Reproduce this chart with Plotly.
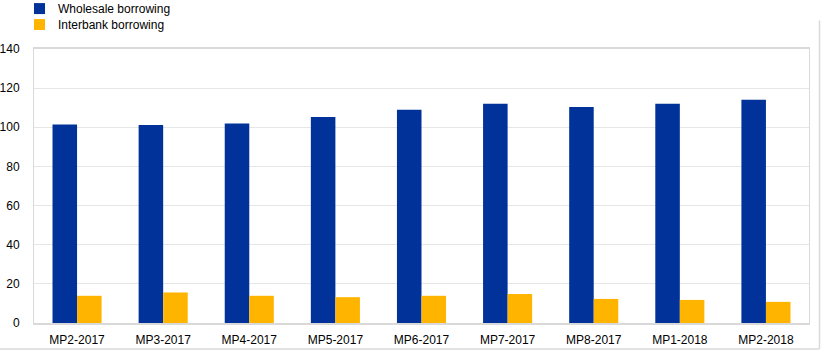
import plotly.graph_objects as go

# Maintenance periods
periods = ["MP2-2017", "MP3-2017", "MP4-2017", "MP5-2017", "MP6-2017",
           "MP7-2017", "MP8-2017", "MP1-2018", "MP2-2018"]
wholesale = [101.4, 101.2, 101.9, 105.3, 109.0, 112.0, 110.4, 112.0, 114.1]
interbank = [13.9, 15.6, 13.9, 13.2, 13.9, 14.8, 12.3, 11.8, 10.8]
series_names = ["Wholesale borrowing", "Interbank borrowing"]
y_ticks = [0, 20, 40, 60, 80, 100, 120, 140]

BLUE = "#003299"
YELLOW = "#FFB400"
GRID = "#e6e6e6"
FRAME = "#d9d9d9"

W, H = 821, 350
ML, MR, MT, MB = 34, 11.5, 48.5, 27
PW, PH = W - ML - MR, H - MT - MB


def px_x(px):
    return (px - ML) / PW


def px_y(py):
    return 1 + (MT - py) / PH


fig = go.Figure()
for name, values, colour in zip(series_names, [wholesale, interbank], [BLUE, YELLOW]):
    fig.add_trace(go.Bar(x=periods, y=values, name=name,
                         marker=dict(color=colour, line=dict(width=0))))

fig.update_layout(
    width=W, height=H,
    margin=dict(l=ML, r=MR, t=MT, b=MB, pad=0, autoexpand=False),
    paper_bgcolor="white", plot_bgcolor="white",
    font=dict(family="Liberation Sans, Arial, sans-serif", size=12, color="#000000"),
    barmode="group", bargap=0.43, bargroupgap=0,
    showlegend=False,
)

# Compact key above the plot: swatch + label per series
for i, (name, colour) in enumerate(zip(series_names, [BLUE, YELLOW])):
    top = 2.5 + 16 * i
    fig.add_shape(type="rect", xref="paper", yref="paper",
                  x0=px_x(34), x1=px_x(45), y0=px_y(top), y1=px_y(top + 11),
                  fillcolor=colour, line=dict(width=0))
    fig.add_annotation(text=name, xref="paper", yref="paper",
                       x=px_x(56), y=px_y(top + 5.5), xanchor="left", yanchor="middle",
                       showarrow=False, font=dict(size=12, color="#000000"))

fig.update_xaxes(showgrid=False, showline=True, linecolor=FRAME, linewidth=2,
                 mirror=True, ticks="", ticklabelstandoff=5, tickfont=dict(size=12))
fig.update_yaxes(range=[0, 140], tickvals=y_ticks, showgrid=True, gridcolor=GRID,
                 gridwidth=1, showline=True, linecolor=FRAME, linewidth=1,
                 mirror=True, ticks="", ticklabelstandoff=11, zeroline=False,
                 tickfont=dict(size=12))

# Light frame along the right and bottom edges of the figure
fig.add_shape(type="line", xref="paper", yref="paper",
              x0=px_x(820), x1=px_x(820), y0=px_y(349), y1=px_y(20),
              line=dict(color=FRAME, width=1.5))
fig.add_shape(type="line", xref="paper", yref="paper",
              x0=px_x(0), x1=px_x(820), y0=px_y(349), y1=px_y(349),
              line=dict(color=FRAME, width=1.5))

fig.write_html("out.html")
